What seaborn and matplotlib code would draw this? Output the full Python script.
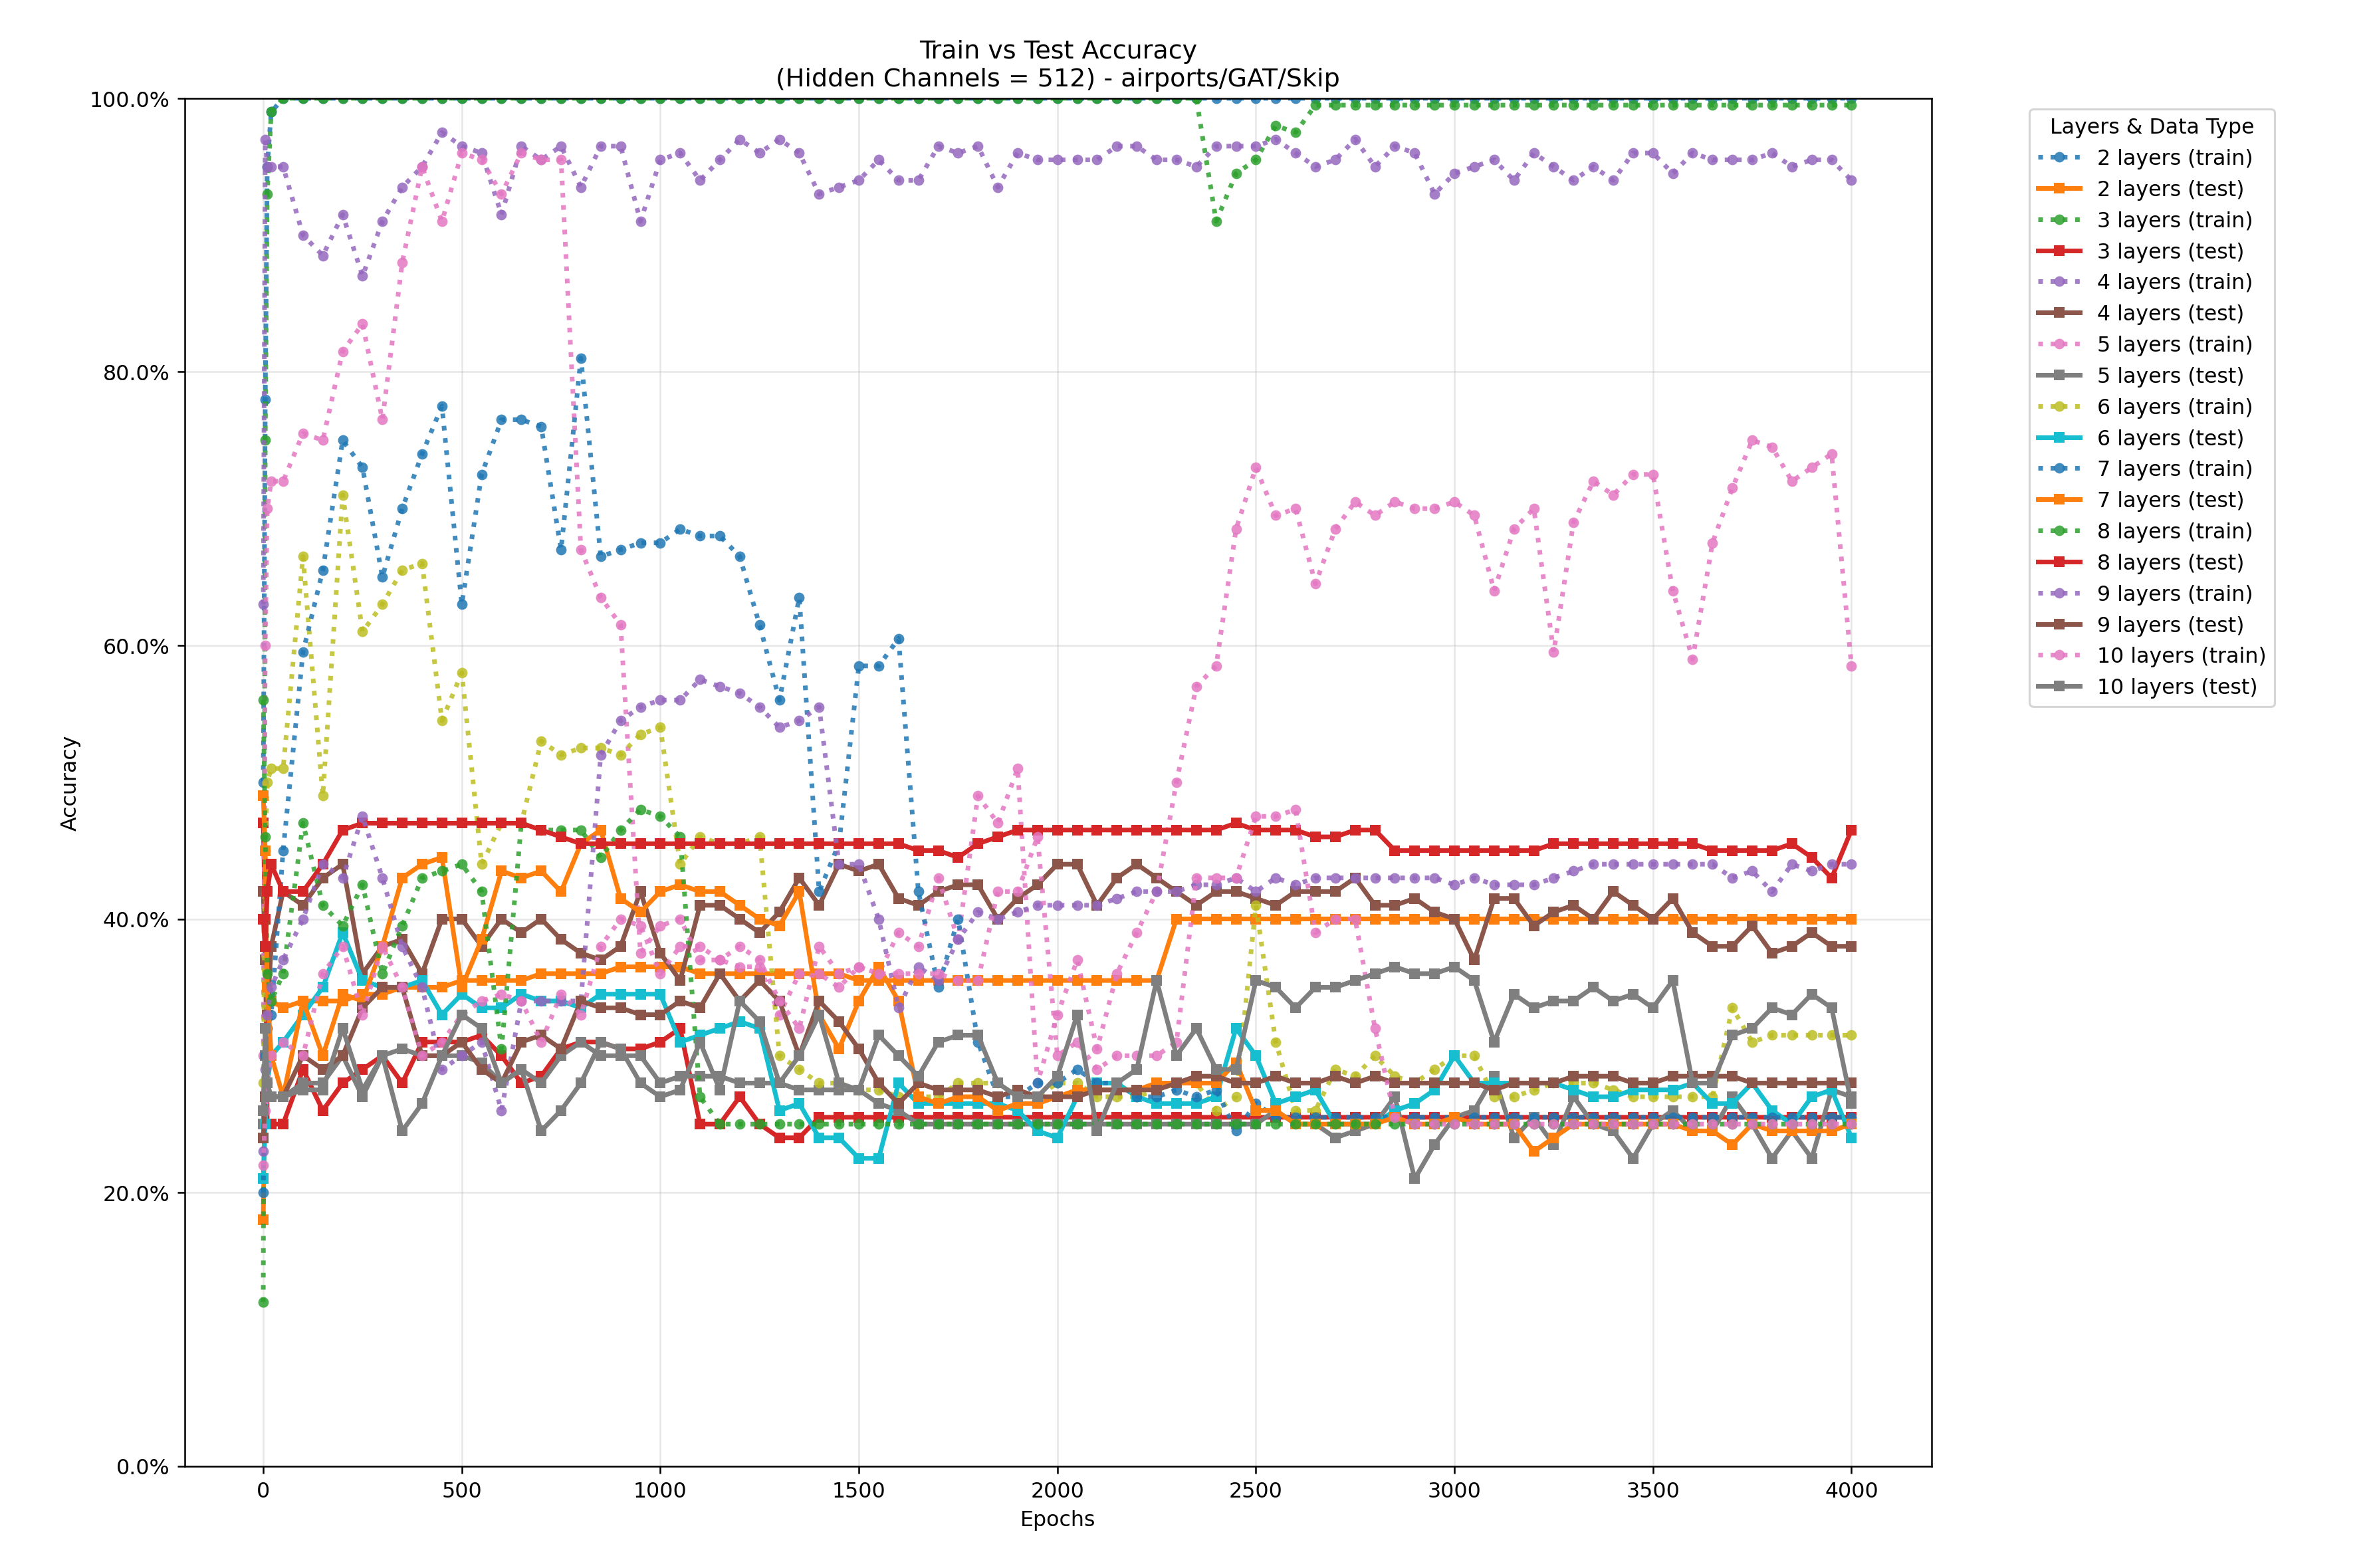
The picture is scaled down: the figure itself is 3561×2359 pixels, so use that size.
import numpy as np
import pandas as pd
import seaborn as sns
import matplotlib.pyplot as plt
from matplotlib.ticker import PercentFormatter

early_epochs = [0, 5, 10, 20]
epochs = early_epochs + list(range(50, 4001, 50))

train_2 = [0.5, 0.78, 0.95, 0.99] + [1.0] * 80
test_2 = [0.18, 0.3, 0.33, 0.34] + [0.335, 0.34, 0.34, 0.34, 0.345, 0.345, 0.35, 0.35, 0.35, 0.355,
          0.355, 0.355, 0.355, 0.36, 0.36, 0.36, 0.36, 0.365, 0.365, 0.365,
          0.365, 0.36, 0.36, 0.36, 0.36, 0.36, 0.36, 0.36, 0.36, 0.355] + [0.355] * 15 + [0.40] * 35
train_3 = [0.12, 0.75, 0.93, 0.99] + [1.0] * 47 + [0.91, 0.945, 0.955, 0.98, 0.975] + [0.995] * 28
test_3 = [0.47, 0.40, 0.25, 0.25] + [0.25, 0.29, 0.26, 0.28, 0.29, 0.30, 0.28, 0.31, 0.31, 0.31,
          0.315, 0.30, 0.28, 0.285, 0.305, 0.31, 0.31, 0.305, 0.305, 0.31,
          0.32, 0.25, 0.25, 0.27, 0.25, 0.24, 0.24, 0.255, 0.255, 0.255] + [0.255] * 50
train_4 = [0.63, 0.97, 0.95, 0.95] + [
    0.95, 0.90, 0.885, 0.915, 0.87, 0.91, 0.935, 0.95, 0.975, 0.965,
    0.96, 0.915, 0.965, 0.955, 0.965, 0.935, 0.965, 0.965, 0.91, 0.955,
    0.96, 0.94, 0.955, 0.97, 0.96, 0.97, 0.96, 0.93, 0.935, 0.94,
    0.955, 0.94, 0.94, 0.965, 0.96, 0.965, 0.935, 0.96, 0.955, 0.955,
    0.955, 0.955, 0.965, 0.965, 0.955, 0.955, 0.95, 0.965, 0.965, 0.965,
    0.97, 0.96, 0.95, 0.955, 0.97, 0.95, 0.965, 0.96, 0.93, 0.945,
    0.95, 0.955, 0.94, 0.96, 0.95, 0.94, 0.95, 0.94, 0.96, 0.96,
    0.945, 0.96, 0.955, 0.955, 0.955, 0.96, 0.95, 0.955, 0.955, 0.94]
test_4 = [0.42, 0.37, 0.33, 0.38] + [
    0.42, 0.41, 0.43, 0.44, 0.36, 0.38, 0.385, 0.36, 0.40, 0.40,
    0.38, 0.40, 0.39, 0.40, 0.385, 0.375, 0.37, 0.38, 0.42, 0.375,
    0.355, 0.41, 0.41, 0.40, 0.39, 0.405, 0.43, 0.41, 0.44, 0.435,
    0.44, 0.415, 0.41, 0.42, 0.425, 0.425, 0.40, 0.415, 0.425, 0.44,
    0.44, 0.41, 0.43, 0.44, 0.43, 0.42, 0.41, 0.42, 0.42, 0.415,
    0.41, 0.42, 0.42, 0.42, 0.43, 0.41, 0.41, 0.415, 0.405, 0.40,
    0.37, 0.415, 0.415, 0.395, 0.405, 0.41, 0.40, 0.42, 0.41, 0.40,
    0.415, 0.39, 0.38, 0.38, 0.395, 0.375, 0.38, 0.39, 0.38, 0.38]
train_5 = [0.3, 0.6, 0.7, 0.72] + [
    0.72, 0.755, 0.75, 0.815, 0.835, 0.765, 0.88, 0.95, 0.91, 0.96,
    0.955, 0.93, 0.96, 0.955, 0.955, 0.67, 0.635, 0.615, 0.375, 0.395,
    0.40, 0.37, 0.37, 0.365, 0.365, 0.33, 0.36, 0.36, 0.35, 0.365,
    0.36, 0.39, 0.38, 0.43, 0.385, 0.49, 0.47, 0.51, 0.28, 0.33,
    0.37, 0.305, 0.36, 0.39, 0.42, 0.50, 0.57, 0.585, 0.685, 0.73,
    0.695, 0.70, 0.645, 0.685, 0.705, 0.695, 0.705, 0.70, 0.70, 0.705,
    0.695, 0.64, 0.685, 0.70, 0.595, 0.69, 0.72, 0.71, 0.725, 0.725,
    0.64, 0.59, 0.675, 0.715, 0.75, 0.745, 0.72, 0.73, 0.74, 0.585]
test_5 = [0.25, 0.30, 0.27, 0.27] + [
    0.27, 0.28, 0.28, 0.30, 0.27, 0.30, 0.305, 0.30, 0.30, 0.30,
    0.295, 0.28, 0.29, 0.28, 0.30, 0.31, 0.30, 0.30, 0.30, 0.28,
    0.285, 0.285, 0.285, 0.28, 0.28, 0.28, 0.275, 0.275, 0.275, 0.275,
    0.265, 0.26, 0.25, 0.25, 0.25, 0.25, 0.25, 0.25, 0.25, 0.25,
    0.25, 0.25, 0.25, 0.25, 0.25, 0.25, 0.25, 0.25, 0.25, 0.25,
    0.26, 0.25, 0.25, 0.24, 0.245, 0.25, 0.27, 0.21, 0.235, 0.255,
    0.26, 0.285, 0.24, 0.255, 0.235, 0.27, 0.25, 0.245, 0.225, 0.25,
    0.26, 0.245, 0.245, 0.27, 0.25, 0.225, 0.245, 0.225, 0.275, 0.27]
train_6 = [0.28, 0.45, 0.5, 0.51] + [
    0.51, 0.665, 0.49, 0.71, 0.61, 0.63, 0.655, 0.66, 0.545, 0.58,
    0.44, 0.47, 0.47, 0.53, 0.52, 0.525, 0.525, 0.52, 0.535, 0.54,
    0.44, 0.46, 0.455, 0.455, 0.46, 0.30, 0.29, 0.28, 0.28, 0.275,
    0.275, 0.27, 0.27, 0.27, 0.28, 0.28, 0.28, 0.27, 0.27, 0.28,
    0.28, 0.27, 0.27, 0.27, 0.275, 0.28, 0.28, 0.26, 0.27, 0.41,
    0.31, 0.26, 0.26, 0.29, 0.285, 0.30, 0.285, 0.28, 0.29, 0.30,
    0.30, 0.27, 0.27, 0.275, 0.28, 0.28, 0.28, 0.275, 0.27, 0.27,
    0.27, 0.27, 0.27, 0.335, 0.31, 0.315, 0.315, 0.315, 0.315, 0.315]
test_6 = [0.21, 0.25, 0.28, 0.30] + [
    0.31, 0.33, 0.35, 0.39, 0.355, 0.35, 0.35, 0.355, 0.33, 0.345,
    0.335, 0.335, 0.345, 0.34, 0.34, 0.335, 0.345, 0.345, 0.345, 0.345,
    0.31, 0.315, 0.32, 0.325, 0.32, 0.26, 0.265, 0.24, 0.24, 0.225,
    0.225, 0.28, 0.265, 0.265, 0.265, 0.265, 0.265, 0.26, 0.245, 0.24,
    0.27, 0.28, 0.28, 0.27, 0.265, 0.265, 0.265, 0.27, 0.32, 0.30,
    0.265, 0.27, 0.275, 0.25, 0.25, 0.25, 0.26, 0.265, 0.275, 0.30,
    0.28, 0.28, 0.28, 0.28, 0.28, 0.275, 0.27, 0.27, 0.275, 0.275,
    0.275, 0.28, 0.265, 0.265, 0.28, 0.26, 0.25, 0.27, 0.275, 0.24]
train_7 = [0.2, 0.3, 0.32, 0.33] + [
    0.45, 0.595, 0.655, 0.75, 0.73, 0.65, 0.70, 0.74, 0.775, 0.63,
    0.725, 0.765, 0.765, 0.76, 0.67, 0.81, 0.665, 0.67, 0.675, 0.675,
    0.685, 0.68, 0.68, 0.665, 0.615, 0.56, 0.635, 0.42, 0.455, 0.585,
    0.585, 0.605, 0.42, 0.35, 0.40, 0.31, 0.27, 0.27, 0.28, 0.28,
    0.29, 0.28, 0.28, 0.27, 0.27, 0.275, 0.27, 0.275, 0.245, 0.265] + [0.255] * 30
test_7 = [0.49, 0.45, 0.35, 0.3] + [
    0.27, 0.34, 0.30, 0.345, 0.34, 0.38, 0.43, 0.44, 0.445, 0.35,
    0.385, 0.435, 0.43, 0.435, 0.42, 0.455, 0.465, 0.415, 0.405, 0.42,
    0.425, 0.42, 0.42, 0.41, 0.40, 0.395, 0.42, 0.33, 0.305, 0.34,
    0.365, 0.34, 0.27, 0.265, 0.27, 0.27, 0.26, 0.265, 0.265, 0.27,
    0.275, 0.275, 0.275, 0.275, 0.28, 0.28, 0.28, 0.28, 0.295, 0.26,
    0.26, 0.25, 0.25, 0.25, 0.25, 0.25, 0.255, 0.25, 0.25, 0.255,
    0.25, 0.25, 0.25, 0.23, 0.24, 0.25, 0.25, 0.25, 0.25, 0.25,
    0.25, 0.245, 0.245, 0.235, 0.25, 0.245, 0.245, 0.245, 0.245, 0.25]
train_8 = [0.56, 0.46, 0.36, 0.34] + [
    0.36, 0.47, 0.41, 0.395, 0.425, 0.36, 0.395, 0.43, 0.435, 0.44,
    0.42, 0.305, 0.47, 0.465, 0.465, 0.465, 0.445, 0.465, 0.48, 0.475,
    0.46, 0.27, 0.25, 0.25, 0.25, 0.25, 0.25, 0.25, 0.25, 0.25] + [0.25] * 50
test_8 = [0.40, 0.38, 0.42, 0.44] + [
    0.42, 0.42, 0.44, 0.465, 0.47, 0.47, 0.47, 0.47, 0.47, 0.47,
    0.47, 0.47, 0.47, 0.465, 0.46, 0.455, 0.455, 0.455, 0.455, 0.455,
    0.455, 0.455, 0.455, 0.455, 0.455, 0.455, 0.455, 0.455, 0.455, 0.455,
    0.455, 0.455, 0.45, 0.45, 0.445, 0.455, 0.46, 0.465, 0.465, 0.465,
    0.465, 0.465, 0.465, 0.465, 0.465, 0.465, 0.465, 0.465, 0.47, 0.465,
    0.465, 0.465, 0.46, 0.46, 0.465, 0.465, 0.45, 0.45, 0.45, 0.45,
    0.45, 0.45, 0.45, 0.45, 0.455, 0.455, 0.455, 0.455, 0.455, 0.455,
    0.455, 0.455, 0.45, 0.45, 0.45, 0.45, 0.455, 0.445, 0.43, 0.465]
train_9 = [0.23, 0.29, 0.33, 0.35] + [
    0.37, 0.40, 0.44, 0.43, 0.475, 0.43, 0.38, 0.35, 0.29, 0.30,
    0.31, 0.26, 0.34, 0.34, 0.34, 0.34, 0.52, 0.545, 0.555, 0.56,
    0.56, 0.575, 0.57, 0.565, 0.555, 0.54, 0.545, 0.555, 0.44, 0.44,
    0.40, 0.335, 0.365, 0.355, 0.385, 0.405, 0.40, 0.405, 0.41, 0.41,
    0.41, 0.41, 0.415, 0.42, 0.42, 0.42, 0.425, 0.425, 0.43, 0.42,
    0.43, 0.425, 0.43, 0.43, 0.43, 0.43, 0.43, 0.43, 0.43, 0.425,
    0.43, 0.425, 0.425, 0.425, 0.43, 0.435, 0.44, 0.44, 0.44, 0.44,
    0.44, 0.44, 0.44, 0.43, 0.435, 0.42, 0.44, 0.435, 0.44, 0.44]
test_9 = [0.24, 0.27, 0.27, 0.27] + [
    0.27, 0.30, 0.29, 0.30, 0.335, 0.35, 0.35, 0.30, 0.30, 0.31,
    0.29, 0.28, 0.31, 0.315, 0.305, 0.34, 0.335, 0.335, 0.33, 0.33,
    0.34, 0.335, 0.36, 0.34, 0.355, 0.34, 0.30, 0.34, 0.325, 0.305,
    0.28, 0.265, 0.28, 0.275, 0.275, 0.275, 0.27, 0.275, 0.27, 0.27,
    0.27, 0.275, 0.275, 0.275, 0.275, 0.28, 0.285, 0.285, 0.28, 0.28,
    0.285, 0.28, 0.28, 0.285, 0.28, 0.285, 0.28, 0.28, 0.28, 0.28,
    0.28, 0.275, 0.28, 0.28, 0.28, 0.285, 0.285, 0.285, 0.28, 0.28,
    0.285, 0.285, 0.285, 0.285, 0.28, 0.28, 0.28, 0.28, 0.28, 0.28]
train_10 = [0.22, 0.26, 0.28, 0.30] + [
    0.31, 0.30, 0.36, 0.38, 0.33, 0.38, 0.35, 0.30, 0.31, 0.33,
    0.34, 0.345, 0.34, 0.31, 0.345, 0.33, 0.38, 0.40, 0.395, 0.36,
    0.38, 0.38, 0.37, 0.38, 0.37, 0.34, 0.32, 0.38, 0.36, 0.365,
    0.36, 0.36, 0.36, 0.36, 0.355, 0.355, 0.42, 0.42, 0.46, 0.30,
    0.31, 0.29, 0.30, 0.30, 0.30, 0.31, 0.43, 0.43, 0.43, 0.475,
    0.475, 0.48, 0.39, 0.40, 0.40, 0.32, 0.255, 0.25, 0.25, 0.25] + [0.25] * 20
test_10 = [0.26, 0.32, 0.28, 0.27] + [
    0.27, 0.275, 0.275, 0.32, 0.275, 0.30, 0.245, 0.265, 0.30, 0.33,
    0.32, 0.28, 0.29, 0.245, 0.26, 0.28, 0.31, 0.305, 0.28, 0.27,
    0.275, 0.31, 0.275, 0.34, 0.325, 0.28, 0.30, 0.33, 0.28, 0.275,
    0.315, 0.30, 0.285, 0.31, 0.315, 0.315, 0.28, 0.27, 0.27, 0.285,
    0.33, 0.245, 0.28, 0.29, 0.355, 0.30, 0.32, 0.29, 0.29, 0.355,
    0.35, 0.335, 0.35, 0.35, 0.355, 0.36, 0.365, 0.36, 0.36, 0.365,
    0.355, 0.31, 0.345, 0.335, 0.34, 0.34, 0.35, 0.34, 0.345, 0.335,
    0.355, 0.28, 0.28, 0.315, 0.32, 0.335, 0.33, 0.345, 0.335, 0.265]

layers = [2, 3, 4, 5, 6, 7, 8, 9, 10]
train_runs = [train_2, train_3, train_4, train_5, train_6, train_7, train_8, train_9, train_10]
test_runs = [test_2, test_3, test_4, test_5, test_6, test_7, test_8, test_9, test_10]

palette = sns.color_palette("tab10")
fig, ax = plt.subplots(figsize=(15.62, 10.35), dpi=228)

k = 0
for n, tr, te in zip(layers, train_runs, test_runs):
    sns.lineplot(x=epochs, y=tr, ax=ax, color=palette[k % 10], linestyle=":", marker="o",
                 markersize=5, markeredgewidth=0, linewidth=2.2, alpha=0.85,
                 label=f"{n} layers (train)")
    k += 1
    sns.lineplot(x=epochs, y=te, ax=ax, color=palette[k % 10], linestyle="-", marker="s",
                 markersize=5, markeredgewidth=0, linewidth=2.2,
                 label=f"{n} layers (test)")
    k += 1

ax.set_ylim(0, 1)
ax.set_xlim(-198, 4202)
ax.yaxis.set_major_formatter(PercentFormatter(1.0, decimals=1))
ax.grid(alpha=0.3)
ax.set_xlabel("Epochs")
ax.set_ylabel("Accuracy")
ax.set_title("Train vs Test Accuracy\n(Hidden Channels = 512) - airports/GAT/Skip")
ax.legend(title="Layers & Data Type", bbox_to_anchor=(1.05, 1), loc="upper left")
fig.subplots_adjust(left=0.078, right=0.816, top=0.937, bottom=0.065)
fig.savefig("out.png")
